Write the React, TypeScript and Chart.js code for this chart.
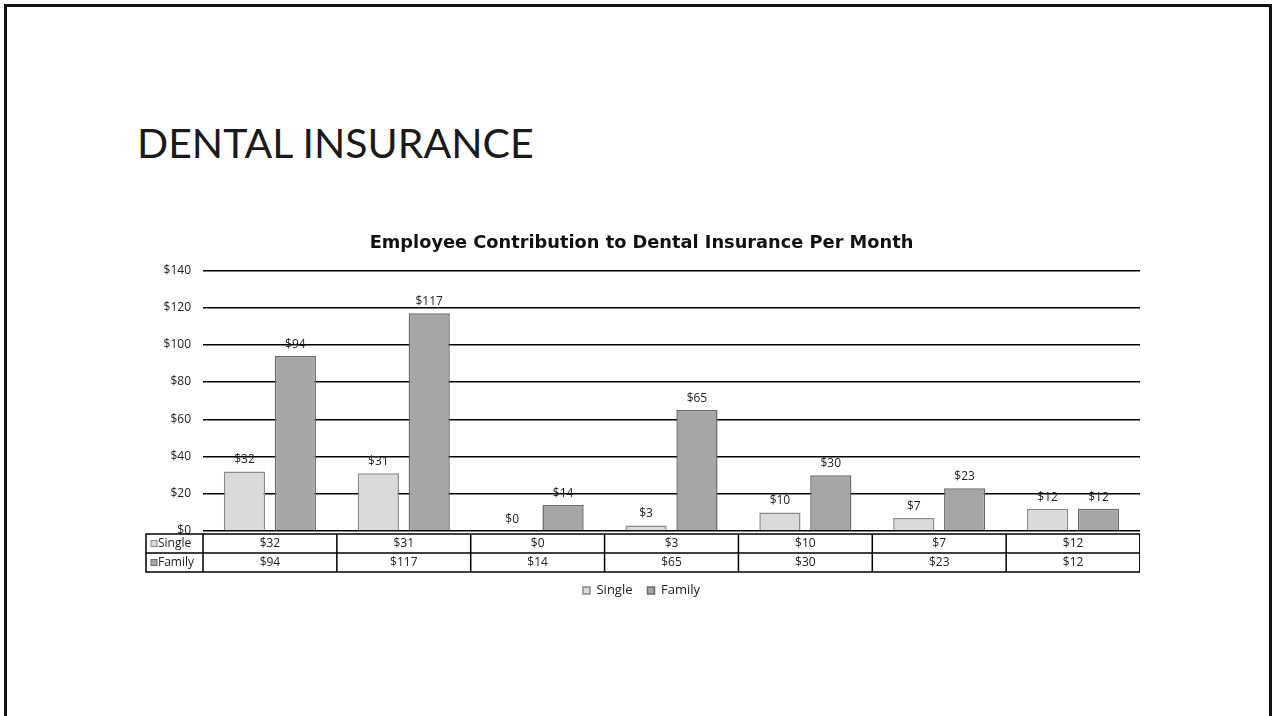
import React, { useEffect, useRef } from "react";
import { Chart, registerables } from "chart.js";

Chart.register(...registerables);

const slideTitle = "DENTAL INSURANCE";
const chartTitle = "Employee Contribution to Dental Insurance Per Month";
const categories = ["1", "2", "3", "4", "5", "6", "7"];
const seriesNames = ["Single", "Family"];
const singleValues = [32, 31, 0, 3, 10, 7, 12];
const familyValues = [94, 117, 14, 65, 30, 23, 12];
const yMin = 0;
const yMax = 140;
const yStep = 20;

const seriesFill = ["#dadada", "#a6a6a6"];
const seriesBorder = ["#8a8a8a", "#6b6b6b"];
const FONT = "'Open Sans', sans-serif";

const money = (v: number) => "$" + v;

const labelsPlugin = {
  id: "barValueLabels",
  afterDatasetsDraw(chart: any) {
    const { ctx } = chart;
    ctx.save();
    ctx.font = `12px ${FONT}`;
    ctx.fillStyle = "#222";
    ctx.textAlign = "center";
    ctx.textBaseline = "alphabetic";
    chart.data.datasets.forEach((ds: any, di: number) => {
      const meta = chart.getDatasetMeta(di);
      meta.data.forEach((bar: any, i: number) => {
        ctx.fillText(money(ds.data[i]), bar.x, bar.y - 8);
      });
    });
    ctx.restore();
  },
};

const tablePlugin = {
  id: "dataTable",
  afterDraw(chart: any) {
    const { ctx, chartArea, scales } = chart;
    const xs = scales.x;
    const n = categories.length;
    const colW = (chartArea.right - chartArea.left) / n;
    const top = chartArea.bottom + 3;
    const rowH = 19;
    const left = chartArea.left - 57;
    const right = chartArea.right;
    const rows = [singleValues, familyValues];
    ctx.save();
    ctx.strokeStyle = "#000";
    ctx.lineWidth = 1.5;
    ctx.strokeRect(left, top, right - left, rowH * 2);
    ctx.beginPath();
    ctx.moveTo(left, top + rowH);
    ctx.lineTo(right, top + rowH);
    for (let i = 0; i <= n; i++) {
      const xx = chartArea.left + i * colW;
      ctx.moveTo(xx, top);
      ctx.lineTo(xx, top + rowH * 2);
    }
    ctx.stroke();
    ctx.font = `12px ${FONT}`;
    ctx.textBaseline = "middle";
    rows.forEach((vals, r) => {
      const cy = top + rowH * r + rowH / 2;
      ctx.fillStyle = seriesFill[r];
      ctx.fillRect(left + 5, cy - 3, 6, 6);
      ctx.strokeStyle = seriesBorder[r];
      ctx.lineWidth = 1;
      ctx.strokeRect(left + 5, cy - 3, 6, 6);
      ctx.fillStyle = "#222";
      ctx.textAlign = "left";
      ctx.fillText(seriesNames[r], left + 12, cy + 0.5);
      ctx.textAlign = "center";
      vals.forEach((v, i) => {
        ctx.fillText(money(v), xs.getPixelForTick(i), cy + 0.5);
      });
    });
    ctx.restore();
  },
};

function ChartCanvas() {
  const ref = useRef<HTMLCanvasElement | null>(null);
  useEffect(() => {
    if (!ref.current) return;
    const chart = new Chart(ref.current, {
      type: "bar",
      data: {
        labels: categories,
        datasets: [
          {
            label: seriesNames[0],
            data: singleValues,
            backgroundColor: seriesFill[0],
            borderColor: seriesBorder[0],
            borderWidth: 1.5,
            categoryPercentage: 0.76,
            barPercentage: 0.81,
          },
          {
            label: seriesNames[1],
            data: familyValues,
            backgroundColor: seriesFill[1],
            borderColor: seriesBorder[1],
            borderWidth: 1.5,
            categoryPercentage: 0.76,
            barPercentage: 0.81,
          },
        ],
      },
      options: {
        animation: false,
        responsive: false,
        maintainAspectRatio: false,
        layout: { padding: 0 },
        plugins: {
          title: {
            display: true,
            text: chartTitle,
            color: "#111",
            font: { family: "'DejaVu Sans', sans-serif", size: 17.8, weight: "bold" },
            padding: { top: 8, bottom: 16 },
          },
          legend: {
            display: true,
            position: "bottom",
            labels: {
              color: "#222",
              font: { family: FONT, size: 13 },
              boxWidth: 7,
              boxHeight: 7,
              padding: 15,
            },
          },
          tooltip: { enabled: false },
        },
        scales: {
          x: {
            display: true,
            ticks: { display: false },
            grid: { display: false },
            border: { display: false },
            afterFit: (s: any) => {
              s.height = 38;
            },
          },
          y: {
            min: yMin,
            max: yMax,
            ticks: {
              stepSize: yStep,
              padding: 12,
              color: "#222",
              font: { family: FONT, size: 12 },
              callback: (v: any) => money(Number(v)),
            },
            grid: { color: "#000", lineWidth: 1.5, drawTicks: false },
            border: { display: false },
            afterFit: (s: any) => {
              s.width = 60;
            },
          },
        },
      },
      plugins: [labelsPlugin, tablePlugin],
    });
    return () => chart.destroy();
  }, []);
  return <canvas ref={ref} width={997} height={382} style={{ width: 997, height: 382, display: "block" }} />;
}

export default function App() {
  return (
    <div
      style={{
        position: "absolute",
        left: 0,
        top: 0,
        width: 1275,
        height: 716,
        overflow: "hidden",
        background: "#fff",
      }}
    >
      <div
        style={{
          position: "absolute",
          left: 4,
          top: 4,
          width: 1268,
          height: 730,
          border: "3px solid #111",
          boxSizing: "border-box",
        }}
      />
      <div
        style={{
          position: "absolute",
          left: 137,
          top: 122,
          fontFamily: "Lato, sans-serif",
          fontSize: 41,
          lineHeight: 1,
          color: "#1a1a1a",
          whiteSpace: "nowrap",
        }}
      >
        {slideTitle}
      </div>
      <div style={{ position: "absolute", left: 143, top: 225 }}>
        <ChartCanvas />
      </div>
    </div>
  );
}
